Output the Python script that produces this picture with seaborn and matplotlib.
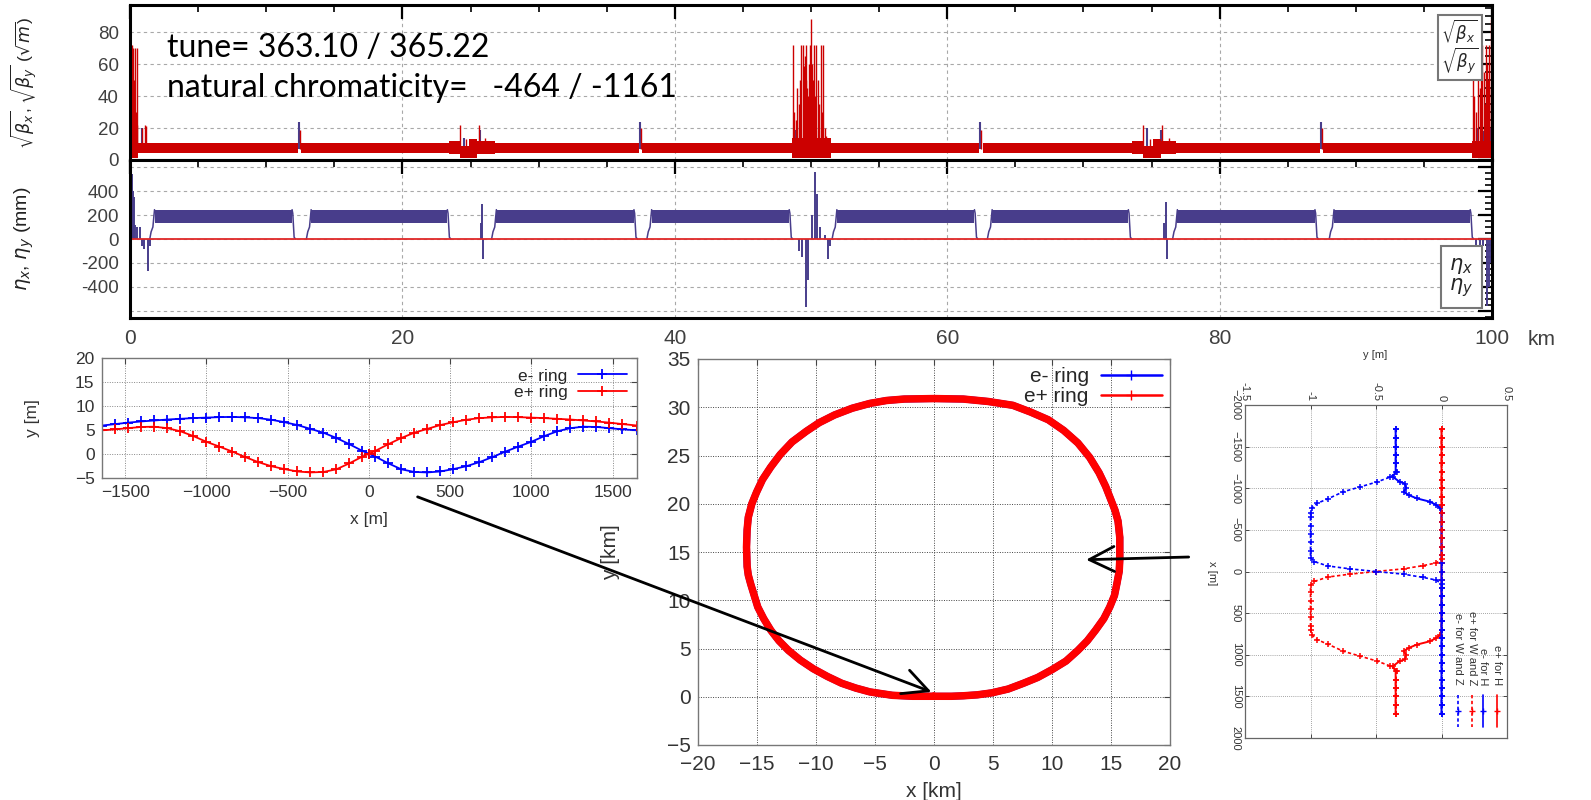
import numpy as np
import matplotlib
matplotlib.use("Agg")
import matplotlib.pyplot as plt
import seaborn as sns
from matplotlib.patches import ConnectionPatch
from matplotlib.lines import Line2D
from matplotlib.ticker import MultipleLocator, FuncFormatter

sns.set_theme(style="white")
plt.rcParams['font.family'] = ['Liberation Sans', 'DejaVu Sans']
plt.rcParams['mathtext.fontset'] = 'dejavusans'

# ---------------- data: top panel (sqrt beta, km) ----------------
RED_BAND_S0 = [0.0, 0.6, 12.55, 23.4, 24.2, 24.9, 25.5, 26.8, 37.6, 48.6, 51.5, 62.6, 73.6, 74.4, 75.1, 75.7, 76.8, 87.6, 98.5]
RED_BAND_S1 = [0.6, 12.35, 23.4, 24.2, 24.9, 25.5, 26.8, 37.4, 48.6, 51.5, 62.35, 73.6, 74.4, 75.1, 75.7, 76.8, 87.4, 98.5, 100.0]
RED_BAND_LO = [1.0, 4.3, 4.3, 4.0, 1.5, 1.5, 3.5, 4.3, 4.3, 1.0, 4.3, 4.3, 4.0, 1.5, 1.5, 3.5, 4.3, 4.3, 1.0]
RED_BAND_HI = [12.0, 10.6, 10.6, 12.0, 9.0, 13.0, 12.0, 10.6, 10.6, 14.0, 10.6, 10.6, 12.0, 9.0, 13.0, 12.0, 10.6, 10.6, 12.0]

RED_SPIKE_S = [0.03, 0.07, 0.12, 0.16, 0.2, 0.24, 0.28, 0.32, 0.36, 0.42, 0.48, 0.55, 0.9, 1.1, 1.2,
               12.45, 24.2, 24.7, 25.6, 26.1, 37.55,
               48.65, 48.75, 48.9, 49.0, 49.1, 49.2, 49.3, 49.4, 49.45, 49.5, 49.55, 49.6, 49.65, 49.7, 49.75,
               49.8, 49.85, 49.9, 49.95, 50.0, 50.05, 50.1, 50.15, 50.2, 50.3, 50.4, 50.5, 50.6, 50.7, 50.8,
               50.85, 51.0, 51.1,
               62.45, 74.4, 74.9, 75.8, 76.3, 87.55,
               98.6, 98.7, 98.85, 99.0, 99.1, 99.2, 99.3, 99.4, 99.5, 99.55, 99.65, 99.7, 99.8, 99.9, 99.95]
RED_SPIKE_V = [88, 72, 60, 72, 45, 70, 50, 35, 70, 30, 70, 22, 20, 22, 21,
               19, 22, 13, 22, 14, 20,
               72, 30, 25, 45, 35, 50, 72, 72, 55, 59, 65, 72, 50, 45, 40,
               38, 60, 55, 72, 88, 60, 45, 50, 72, 40, 72, 50, 35, 72, 30,
               72, 20, 15,
               19, 22, 13, 22, 14, 20,
               72, 40, 30, 60, 45, 72, 72, 55, 35, 72, 60, 50, 72, 45, 88]
PURPLE_SPIKE_S = [0.3, 0.4, 0.9, 12.4, 24.0, 24.5, 25.7, 26.2, 37.45, 48.8, 49.2, 49.9, 50.6, 51.2,
                  62.4, 74.3, 74.7, 75.7, 76.2, 87.45, 98.9, 99.4, 99.9]
PURPLE_SPIKE_V = [20, 18, 20, 24, 12, 14, 19, 12, 24, 19, 20, 24, 18, 12,
                  24, 12, 20, 19, 12, 24, 20, 18, 20]

# ---------------- data: dispersion panel (mm) ----------------
ETA_ARC_S0 = [1.8, 13.3, 26.9, 38.3, 51.9, 63.3, 76.9, 88.4]
ETA_ARC_S1 = [11.9, 23.3, 37.0, 48.4, 62.0, 73.3, 87.0, 98.4]
ETA_ARC_LO = [130, 130, 130, 130, 130, 130, 130, 130]
ETA_ARC_HI = [245, 245, 245, 245, 245, 245, 245, 245]
SUP_IN_DS = [-0.35, -0.25, -0.12, 0.0]
SUP_IN_ETA = [0, 60, 100, 245]
SUP_OUT_DS = [0.0, 0.05, 0.15, 0.25]
SUP_OUT_ETA = [245, 215, 15, 0]
ETA_SPIKE_S = [0.05, 0.12, 0.2, 0.3, 0.4, 0.5, 0.7, 0.85, 1.0, 1.3, 1.45, 25.75, 25.85, 25.95,
               49.1, 49.35, 49.6, 49.75, 50.05, 50.3, 50.45, 50.65, 51.0, 51.25, 51.4,
               75.95, 76.05, 76.15, 98.8, 99.1, 99.35, 99.6, 99.75, 99.9]
ETA_SPIKE_V = [560, 540, 400, 350, 120, 100, 100, -60, -80, -270, -60, 130, 290, -170,
               -100, -150, -570, -340, 200, 560, 380, 100, 30, -170, -60,
               130, 310, -170, -60, -100, -60, -560, -400, -200]
ETA_Y_S = [0.0, 100.0]
ETA_Y_V = [0.0, 0.0]

# ---------------- data: IR orbit (m) ----------------
E_X = [-1640, -1560, -1480, -1400, -1320, -1240, -1160, -1080, -1000, -920, -840, -760, -680, -600, -520, -440,
       -360, -280, -200, -120, -40, 0, 40, 120, 200, 280, 360, 440, 520, 600, 680, 760, 840, 920, 1000,
       1080, 1160, 1240, 1320, 1400, 1480, 1560, 1650]
EMINUS_Y = [5.9, 6.2, 6.5, 6.75, 6.95, 7.15, 7.3, 7.45, 7.55, 7.65, 7.7, 7.6, 7.45, 7.1, 6.6, 6.0,
            5.2, 4.4, 3.3, 2.0, 0.6, 0.0, -0.6, -2.0, -3.25, -3.8, -3.9, -3.7, -3.2, -2.6, -1.75, -0.7, 0.45, 1.5, 2.5,
            3.7, 4.7, 5.35, 5.65, 5.6, 5.35, 5.1, 4.9]
EPLUS_Y = [4.9, 5.1, 5.35, 5.6, 5.65, 5.35, 4.7, 3.7, 2.5, 1.5, 0.45, -0.7, -1.75, -2.6, -3.2, -3.7,
           -3.9, -3.8, -3.25, -2.0, -0.6, 0.0, 0.6, 2.0, 3.3, 4.4, 5.2, 6.0, 6.6, 7.1, 7.45, 7.6, 7.7, 7.65, 7.55,
           7.45, 7.3, 7.15, 6.95, 6.75, 6.5, 6.2, 5.9]

# ---------------- data: ring layout (km) ----------------
RING_X = [0.0, 1.5, 2.5, 3.7, 4.9, 6.3, 7.6, 8.8, 10.0, 11.2, 12.2, 13.0, 13.7, 14.4, 14.9, 15.3, 15.5, 15.7,
          15.75, 15.75, 15.6, 15.35, 15.0, 14.55, 14.0, 13.2, 12.2, 11.0, 9.7, 8.2, 6.7, 4.6, 2.5, 0.0,
          -2.5, -4.0, -5.4, -6.9, -8.4, -9.7, -10.8, -12.0, -13.0, -13.8, -14.5, -15.0, -15.4, -15.7, -15.8,
          -15.85, -15.8, -15.7, -15.5, -15.2, -14.9, -14.4, -13.8, -13.1, -12.3, -11.3, -10.2, -9.0, -7.8,
          -6.6, -5.4, -3.5, -1.8, 0.0]
RING_Y = [0.05, 0.05, 0.1, 0.2, 0.4, 0.8, 1.4, 2.0, 2.8, 3.7, 4.8, 5.8, 6.9, 8.1, 9.3, 10.5, 11.7, 13.0,
          14.2, 16.5, 18.2, 19.3, 20.4, 21.8, 23.2, 24.8, 26.3, 27.6, 28.7, 29.5, 30.2, 30.6, 30.85, 30.9,
          30.85, 30.7, 30.4, 29.9, 29.2, 28.4, 27.5, 26.4, 25.1, 23.8, 22.5, 21.2, 20.0, 18.6, 17.3,
          15.5, 13.5, 12.6, 11.7, 10.5, 9.3, 8.1, 6.9, 5.8, 4.8, 3.8, 2.9, 2.1, 1.4,
          0.9, 0.5, 0.15, 0.05, 0.05]

# ---------------- data: IR crossing options (x [m], y [m]) ----------------
EPH_X = [-1711, -1600, -1500, -1400, -1300, -1200, -1100, -1000, -900, -800, -700, -600, -500, -400, -300, -200,
         -100, 0, 100, 200, 300, 400, 500, 600, 700, 760, 800, 839, 879, 918, 958, 998, 1057, 1077, 1136, 1196,
         1300, 1400, 1500, 1600, 1711]
EPH_Y = [0, 0, 0, 0, 0, 0, 0, 0, 0, 0, 0, 0, 0, 0, 0, 0,
         0, 0, 0, 0, 0, 0, 0, 0, 0, -0.01, -0.04, -0.09, -0.19, -0.25, -0.29, -0.27, -0.28, -0.32, -0.37, -0.35,
         -0.35, -0.35, -0.35, -0.35, -0.35]
EMH_X = [-1711, -1600, -1500, -1400, -1300, -1196, -1136, -1077, -1057, -998, -958, -918, -879, -839, -800, -760,
         -700, -600, -500, -400, -300, -200, -100, 0, 100, 200, 300, 400, 500, 600, 700, 800, 900, 1000, 1100,
         1200, 1300, 1400, 1500, 1600, 1711]
EMH_Y = [-0.35, -0.35, -0.35, -0.35, -0.35, -0.35, -0.37, -0.32, -0.28, -0.27, -0.29, -0.25, -0.19, -0.09, -0.04, -0.01,
         0, 0, 0, 0, 0, 0, 0, 0, 0, 0, 0, 0, 0, 0, 0, 0, 0, 0, 0,
         0, 0, 0, 0, 0, 0]
EPWZ_X = [-1711, -1600, -1500, -1400, -1300, -1200, -1100, -1000, -900, -800, -700, -600, -500, -400, -300, -200,
          -150, -103, -71, -32, 0, 32, 67, 119, 166, 250, 350, 450, 550, 650, 705, 760, 819, 871, 958, 1017, 1077,
          1136, 1196, 1300, 1400, 1500, 1600, 1711]
EPWZ_Y = [0, 0, 0, 0, 0, 0, 0, 0, 0, 0, 0, 0, 0, 0, 0, 0,
          0, -0.04, -0.14, -0.29, -0.50, -0.70, -0.87, -0.97, -1.0, -1.0, -1.0, -1.0, -1.0, -1.0, -1.0, -0.99, -0.95,
          -0.87, -0.75, -0.62, -0.49, -0.39, -0.34, -0.35, -0.35, -0.35, -0.35, -0.35]
EMWZ_X = [-1711, -1600, -1500, -1400, -1300, -1196, -1136, -1077, -1017, -958, -871, -819, -760, -705, -650, -550,
          -450, -350, -250, -166, -119, -67, -32, 0, 32, 71, 103, 150, 200, 300, 400, 500, 600, 700, 800, 900,
          1000, 1100, 1200, 1300, 1400, 1500, 1600, 1711]
EMWZ_Y = [-0.35, -0.35, -0.35, -0.35, -0.35, -0.34, -0.39, -0.49, -0.62, -0.75, -0.87, -0.95, -0.99, -1.0, -1.0, -1.0,
          -1.0, -1.0, -1.0, -1.0, -0.97, -0.87, -0.70, -0.50, -0.29, -0.14, -0.04, 0, 0, 0, 0, 0, 0, 0, 0, 0,
          0, 0, 0, 0, 0, 0, 0, 0]

RED_DARK = "#cc0000"
PURPLE = "#483d8b"
BLUE = "#0000ff"
RED = "#ff0000"

W, H = 1591, 800
fig = plt.figure(figsize=(W / 100, H / 100), dpi=100)
fig.patch.set_facecolor("white")


def rect(l, t, r, b):
    return [l / W, 1 - b / H, (r - l) / W, (b - t) / H]


ax_b = fig.add_axes(rect(130, 5, 1492, 160))
ax_e = fig.add_axes(rect(130, 160, 1492, 318))
ax_l = fig.add_axes(rect(101.5, 358, 637, 477.7))
ax_c = fig.add_axes(rect(697.5, 359, 1170, 745))
ax_r = fig.add_axes(rect(1245, 405, 1507, 738))

# ---------- top: sqrt(beta) ----------
ax_b.vlines(PURPLE_SPIKE_S, 7, PURPLE_SPIKE_V, color=PURPLE, lw=1.5, zorder=2)
for s0, s1, lo, hi in zip(RED_BAND_S0, RED_BAND_S1, RED_BAND_LO, RED_BAND_HI):
    ax_b.fill_between([s0, s1], lo, hi, color=RED_DARK, lw=0, zorder=3)
ax_b.vlines(RED_SPIKE_S, 7, RED_SPIKE_V, color=RED_DARK, lw=1.0, zorder=4)
ax_b.set_ylim(0, 97)
ax_b.yaxis.set_major_locator(MultipleLocator(20))
ax_b.yaxis.set_minor_locator(MultipleLocator(5))
ax_b.text(0.027, 0.665, "tune= 363.10 / 365.22", transform=ax_b.transAxes, fontsize=23,
          family=["Lato", "DejaVu Sans"], va="baseline", ha="left", color="black", zorder=6)
ax_b.text(0.027, 0.405, "natural chromaticity=   -464 / -1161", transform=ax_b.transAxes, fontsize=23,
          family=["Lato", "DejaVu Sans"], va="baseline", ha="left", color="black", zorder=6)
ax_b.set_ylabel(r"$\sqrt{\beta_x}$, $\sqrt{\beta_y}$ ($\sqrt{m}$)", fontsize=12.5, color="#222222",
                va="center")
ax_b.yaxis.set_label_coords(-0.078, 0.5)
blank = Line2D([], [], color="none")
lg = ax_b.legend([blank, blank], [r"$\sqrt{\beta_x}$", r"$\sqrt{\beta_y}$"], loc="upper right",
                 handlelength=0, handletextpad=0, fancybox=False, edgecolor="#777777", framealpha=1,
                 fontsize=12, borderaxespad=0.6, borderpad=0.2, labelspacing=0.0)
lg.get_frame().set_linewidth(1.5)

# ---------- middle: dispersion ----------
for s0, s1, lo, hi in zip(ETA_ARC_S0, ETA_ARC_S1, ETA_ARC_LO, ETA_ARC_HI):
    ax_e.fill_between([s0, s1], lo, hi, color=PURPLE, lw=0, zorder=3)
    ax_e.plot(np.array(SUP_IN_DS) + s0, SUP_IN_ETA, color=PURPLE, lw=1.1, zorder=3)
    ax_e.plot(np.array(SUP_OUT_DS) + s1, SUP_OUT_ETA, color=PURPLE, lw=1.1, zorder=3)
ax_e.vlines(ETA_SPIKE_S, 0, ETA_SPIKE_V, color=PURPLE, lw=1.4, zorder=3)
ax_e.plot(ETA_Y_S, ETA_Y_V, color="#e02828", lw=1.3, zorder=4)
ax_e.set_ylim(-660, 660)
ax_e.yaxis.set_major_locator(MultipleLocator(200))
ax_e.yaxis.set_minor_locator(MultipleLocator(50))
ax_e.yaxis.set_major_formatter(FuncFormatter(lambda v, p: "" if abs(v) > 500 else f"{v:.0f}"))
ax_e.set_ylabel(r"$\eta_x$, $\eta_y$ (mm)", fontsize=14, color="#222222", va="center")
ax_e.yaxis.set_label_coords(-0.078, 0.5)
lg2 = ax_e.legend([blank, blank], [r"$\eta_x$", r"$\eta_y$"], loc="lower right",
                  handlelength=0, handletextpad=0, fancybox=False, edgecolor="#777777", framealpha=1,
                  fontsize=15, borderaxespad=0.5, borderpad=0.4, labelspacing=0.0)
lg2.get_frame().set_linewidth(1.5)

for ax in (ax_b, ax_e):
    ax.set_xlim(0, 100)
    ax.xaxis.set_major_locator(MultipleLocator(20))
    ax.xaxis.set_minor_locator(MultipleLocator(5))
    ax.tick_params(which="both", direction="in", top=True, right=True, color="black",
                   labelcolor="#404040", labelsize=13.5, pad=8)
    ax.tick_params(which="major", length=10, width=1.6)
    ax.tick_params(which="minor", length=5, width=1.2)
    ax.grid(True, which="major", color="#a8a8a8", linestyle=(0, (3, 3)), lw=0.8, zorder=0)
    for sp in ax.spines.values():
        sp.set_linewidth(2.2)
        sp.set_color("black")
        sp.set_zorder(5)
ax_b.tick_params(labelbottom=False)
ax_e.tick_params(axis="x", labelsize=15, pad=8)
ax_e.xaxis.set_major_formatter(FuncFormatter(lambda v, p: f"{v:.0f}"))
ax_e.annotate("km", xy=(1, 0), xycoords="axes fraction", xytext=(50, -12), textcoords="offset pixels",
              ha="center", va="top", fontsize=15, color="#404040")

# ---------- bottom-left: IR orbits ----------
sns.lineplot(x=E_X, y=EMINUS_Y, ax=ax_l, color=BLUE, marker="+", markersize=7, markeredgewidth=1.3,
             markeredgecolor=BLUE, lw=1.3, sort=False, estimator=None, label="e- ring")
sns.lineplot(x=E_X, y=EPLUS_Y, ax=ax_l, color=RED, marker="+", markersize=7, markeredgewidth=1.3,
             markeredgecolor=RED, lw=1.3, sort=False, estimator=None, label="e+ ring")
ax_l.set_xlim(-1645, 1650)
ax_l.set_ylim(-5, 20)
ax_l.xaxis.set_major_locator(MultipleLocator(500))
ax_l.yaxis.set_major_locator(MultipleLocator(5))
ax_l.legend(loc="upper right", markerfirst=False, frameon=False, fontsize=12.5, handlelength=2.8,
            borderaxespad=0.4, borderpad=0.2, labelspacing=0.1, handletextpad=0.6)
ax_l.set_xlabel("x [m]", fontsize=12.5, color="#333333")
ax_l.set_ylabel("y [m]", fontsize=12.5, color="#333333")
ax_l.xaxis.set_label_coords(0.5, -0.29)
ax_l.yaxis.set_label_coords(-0.115, 0.5)

# ---------- bottom-center: ring ----------
sns.lineplot(x=RING_X, y=RING_Y, ax=ax_c, color=BLUE, lw=5, sort=False, estimator=None,
             solid_joinstyle="round", solid_capstyle="round")
sns.lineplot(x=RING_X, y=RING_Y, ax=ax_c, color=RED, lw=5.4, sort=False, estimator=None,
             solid_joinstyle="round", solid_capstyle="round")
ax_c.set_xlim(-20, 20)
ax_c.set_ylim(-5, 35)
ax_c.xaxis.set_major_locator(MultipleLocator(5))
ax_c.yaxis.set_major_locator(MultipleLocator(5))
hc = [Line2D([], [], color=BLUE, lw=1.8, marker="+", markersize=7, markevery=[1]),
      Line2D([], [], color=RED, lw=1.8, marker="+", markersize=7, markevery=[1])]
ax_c.legend(hc, ["e- ring", "e+ ring"], loc="upper right", markerfirst=False, frameon=False, fontsize=15,
            handlelength=2.9, borderaxespad=0.2, borderpad=0.2, labelspacing=0.05, handletextpad=0.6)
ax_c.set_xlabel("x [km]", fontsize=15, color="#333333")
ax_c.set_ylabel("y [km]", fontsize=15, color="#333333")
ax_c.xaxis.set_label_coords(0.5, -0.095)
ax_c.yaxis.set_label_coords(-0.164, 0.5)

for ax, fs in ((ax_l, 12.5), (ax_c, 15)):
    ax.tick_params(which="major", direction="in", top=True, right=True, length=4, width=0.8,
                   color="#444444", labelcolor="#333333", labelsize=fs, pad=5)
    ax.grid(True, color="#888888" if ax is ax_l else "#444444", linestyle=(0, (1, 1.5)), lw=0.7)
    for sp in ax.spines.values():
        sp.set_linewidth(1.0)
        sp.set_color("#777777")
ax_c.tick_params(axis="x", pad=7)

# ---------- right: rotated IR crossing plot ----------
ax_r.plot(EPH_Y, EPH_X, color=RED, lw=1.4, marker="+", markersize=5, markeredgewidth=1.1)
ax_r.plot(EMH_Y, EMH_X, color=BLUE, lw=1.4, marker="+", markersize=5, markeredgewidth=1.1)
ax_r.plot(EPWZ_Y, EPWZ_X, color=RED, lw=1.2, ls=(0, (2, 1.5)), marker="+", markersize=5, markeredgewidth=1.1)
ax_r.plot(EMWZ_Y, EMWZ_X, color=BLUE, lw=1.2, ls=(0, (2, 1.5)), marker="+", markersize=5, markeredgewidth=1.1)
ax_r.set_xlim(-1.5, 0.5)
ax_r.set_ylim(2000, -2000)
ax_r.xaxis.set_major_locator(MultipleLocator(0.5))
ax_r.yaxis.set_major_locator(MultipleLocator(500))
ax_r.xaxis.set_major_formatter(FuncFormatter(lambda v, p: f"{v:g}"))
ax_r.xaxis.tick_top()
ax_r.xaxis.set_label_position("top")
ax_r.tick_params(which="major", direction="in", top=True, bottom=True, left=True, right=True, length=3,
                 width=0.7, color="#444444", labelcolor="#333333", labelsize=8, pad=3)
ax_r.tick_params(axis="x", labelrotation=-90)
ax_r.tick_params(axis="y", labelrotation=-90)
for t in ax_r.get_yticklabels():
    t.set_va("center")
ax_r.grid(True, color="#888888", linestyle=(0, (1, 1.5)), lw=0.6)
for sp in ax_r.spines.values():
    sp.set_linewidth(0.9)
    sp.set_color("#666666")
ax_r.set_xlabel("y [m]", fontsize=8, color="#333333")
ax_r.xaxis.set_label_coords(0.496, 1.141)
ax_r.set_ylabel("x [m]", fontsize=8, color="#333333", rotation=-90, va="center")
ax_r.yaxis.set_label_coords(-0.126, 0.495)
leg_items = [("e+ for H", RED, "-", 0.961), ("e- for H", BLUE, "-", 0.910),
             ("e+ for W and Z", RED, (0, (2, 1.5)), 0.865), ("e- for W and Z", BLUE, (0, (2, 1.5)), 0.814)]
for txt, col, ls, xf in leg_items:
    ax_r.text(xf, 0.159, txt, transform=ax_r.transAxes, rotation=-90, ha="center", va="bottom",
              fontsize=8, color="#333333")
    ax_r.add_line(Line2D([xf, xf], [0.129, 0.033], transform=ax_r.transAxes, color=col, lw=1.2, ls=ls))
    ax_r.add_line(Line2D([xf], [0.081], transform=ax_r.transAxes, color=col, marker="+", markersize=5))

# ---------- arrows ----------
arr_style = "->,head_length=0.9,head_width=0.45"
cp1 = ConnectionPatch(xyA=(300, -9), coordsA=ax_l.transData, xyB=(-0.2, 0.5), coordsB=ax_c.transData,
                      arrowstyle=arr_style, mutation_scale=20, lw=2.0, color="black", zorder=20)
cp1.set_clip_on(False)
fig.add_artist(cp1)
cp2 = ConnectionPatch(xyA=(-1.93, -174), coordsA=ax_r.transData, xyB=(12.9, 14.2), coordsB=ax_c.transData,
                      arrowstyle=arr_style, mutation_scale=20, lw=2.0, color="black", zorder=20)
cp2.set_clip_on(False)
fig.add_artist(cp2)

fig.savefig("out.png", dpi=100, facecolor="white")
